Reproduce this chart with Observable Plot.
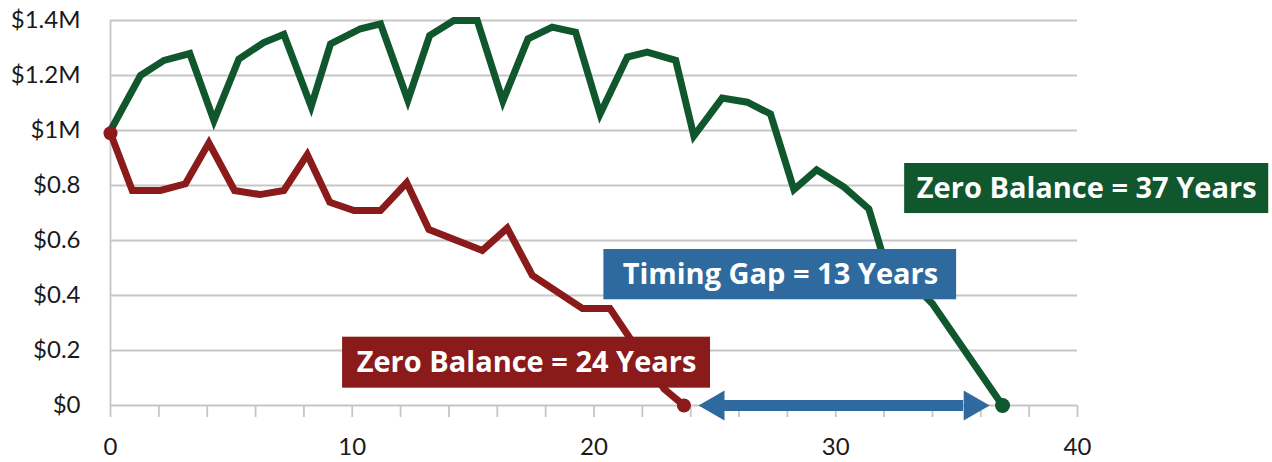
<!DOCTYPE html>
<html>
<head>
<meta charset="utf-8">
<script src="https://cdn.jsdelivr.net/npm/d3@7"></script>
<script src="https://cdn.jsdelivr.net/npm/@observablehq/plot@0.6"></script>
<style>
  html, body { margin: 0; padding: 0; background: #ffffff; }
  #chart svg { display: block; }
</style>
</head>
<body>
<div id="chart"></div>
<script>
// ---- data ----
const greenYears = [0, 1.24, 2.21, 3.28, 4.28, 5.31, 6.34, 7.17, 8.3, 9.1, 10.34, 11.17, 12.3, 13.2, 14.2, 15.17, 16.23, 17.27, 18.27, 19.24, 20.25, 21.38, 22.2, 23.38, 24.13, 25.3, 26.34, 27.3, 28.27, 29.21, 30.34, 31.37, 31.9, 34.0, 36.9];
const greenBalance = [1.0, 1.2, 1.255, 1.28, 1.036, 1.26, 1.32, 1.35, 1.087, 1.315, 1.37, 1.388, 1.11, 1.345, 1.4, 1.4, 1.107, 1.333, 1.376, 1.357, 1.06, 1.267, 1.285, 1.255, 0.98, 1.118, 1.103, 1.06, 0.785, 0.857, 0.794, 0.715, 0.56, 0.37, 0];

const redYears = [0, 0.9, 2.07, 3.1, 4.07, 5.13, 6.18, 7.17, 8.14, 9.07, 10.07, 11.17, 12.25, 13.17, 15.38, 16.41, 17.45, 19.52, 20.66, 22.9, 23.72];
const redBalance = [0.99, 0.782, 0.782, 0.806, 0.955, 0.782, 0.767, 0.782, 0.912, 0.739, 0.709, 0.709, 0.81, 0.64, 0.564, 0.645, 0.473, 0.353, 0.353, 0.06, 0];

const yTicks = [0, 0.2, 0.4, 0.6, 0.8, 1, 1.2, 1.4];
const yTickLabels = ["$0", "$0.2", "$0.4", "$0.6", "$0.8", "$1M", "$1.2M", "$1.4M"];
const xTicks = [0, 10, 20, 30, 40];
const xTickLabels = ["0", "10", "20", "30", "40"];
const xMinorTicks = [0, 2, 4, 6, 8, 10, 12, 14, 16, 18, 20, 22, 24, 26, 28, 30, 32, 34, 36, 38, 40];

const redLabel = "Zero Balance = 24 Years";
const gapLabel = "Timing Gap = 13 Years";
const greenLabel = "Zero Balance = 37 Years";

// ---- build ----
const GREEN = "#11572d";
const RED = "#8b1a1b";
const BLUE = "#2e6a9d";
const GRID = "#c6c6c6";
const FONT = "Lato, 'Open Sans', sans-serif";
const LABEL_FONT = "'Open Sans', Lato, sans-serif";

const green = greenYears.map((x, i) => ({x, y: greenBalance[i]}));
const red = redYears.map((x, i) => ({x, y: redBalance[i]}));
const greenEnd = green[green.length - 1];
const redEnd = red[red.length - 1];

const labelStyle = {fill: "#ffffff", fontSize: 29, fontWeight: 700, fontFamily: LABEL_FONT};

const chart = Plot.plot({
  width: 1272,
  height: 462,
  marginLeft: 110,
  marginRight: 195,
  marginTop: 20,
  marginBottom: 57,
  style: {fontFamily: FONT, background: "#ffffff"},
  x: {type: "linear", domain: [0, 40], axis: null},
  y: {type: "linear", domain: [0, 1.4], axis: null},
  marks: [
    Plot.gridY(yTicks, {stroke: GRID, strokeOpacity: 1, strokeWidth: 1.8}),
    Plot.ruleX([0], {stroke: GRID, strokeWidth: 1.8}),
    Plot.axisX(xMinorTicks, {tickSize: 12, tickFormat: () => "", label: null, stroke: GRID, strokeWidth: 1.8, strokeOpacity: 1}),
    Plot.text(yTicks, {x: 0, y: d => d, text: (d, i) => yTickLabels[i], textAnchor: "end", dx: -30, fontSize: 24, fill: "#1a1a1a"}),
    Plot.text(xTicks, {x: d => d, y: 0, text: (d, i) => xTickLabels[i], dy: 42, fontSize: 24, fill: "#1a1a1a"}),
    Plot.line(green, {x: "x", y: "y", stroke: GREEN, strokeWidth: 7, strokeLinejoin: "miter", strokeMiterlimit: 10}),
    Plot.line(red, {x: "x", y: "y", stroke: RED, strokeWidth: 7, strokeLinejoin: "miter", strokeMiterlimit: 10}),
    Plot.dot([red[0], redEnd], {x: "x", y: "y", r: 7, fill: RED}),
    Plot.dot([greenEnd], {x: "x", y: "y", r: 7.5, fill: GREEN}),
    // timing gap arrow
    Plot.ruleY([0], {x1: 25.4, x2: 35.29, stroke: BLUE, strokeWidth: 11}),
    Plot.dot([{x: 25.04, y: 0}], {x: "x", y: "y", symbol: "triangle", r: 11.14, fill: BLUE, stroke: null, rotate: -90}),
    Plot.dot([{x: 35.65, y: 0}], {x: "x", y: "y", symbol: "triangle", r: 11.14, fill: BLUE, stroke: null, rotate: 90}),
    // labels
    Plot.rect([redLabel], {x1: 9.6, x2: 24.82, y1: 0.063, y2: 0.2484, fill: RED}),
    Plot.text([redLabel], {x: 17.21, y: 0.1556, text: d => d, ...labelStyle}),
    Plot.rect([gapLabel], {x1: 20.41, x2: 35.0, y1: 0.3844, y2: 0.5673, fill: BLUE}),
    Plot.text([gapLabel], {x: 27.71, y: 0.4757, text: d => d, ...labelStyle}),
    Plot.rect([greenLabel], {x1: 32.85, x2: 47.91, y1: 0.698, y2: 0.88, fill: GREEN}),
    Plot.text([greenLabel], {x: 40.38, y: 0.789, text: d => d, ...labelStyle})
  ]
});
document.getElementById("chart").appendChild(chart);
</script>
</body>
</html>
